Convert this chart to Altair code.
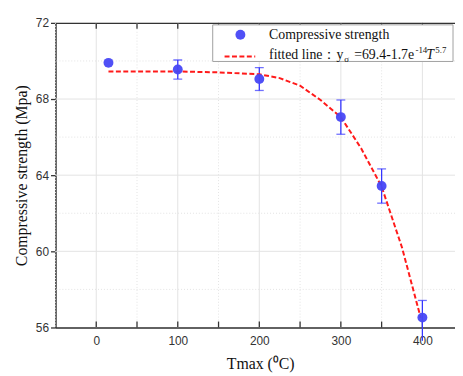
import altair as alt
import pandas as pd

# ---- data ----
temps = [15, 100, 200, 300, 350, 400]
strength = [69.9, 69.55, 69.05, 67.05, 63.43, 56.52]
err_lo = [69.9, 69.05, 68.45, 66.15, 62.53, 55.3]
err_hi = [69.9, 70.05, 69.65, 67.95, 64.33, 57.42]

fit_T = [15, 50, 100, 150, 200, 225, 250, 275, 300, 325, 350, 375, 398]
fit_y = [69.45, 69.45, 69.45, 69.4, 69.3, 69.1, 68.7, 67.95, 67.05, 65.4, 63.4, 60.2, 56.5]

x_major = [0, 100, 200, 300, 400]
x_minor = [-50, 50, 150, 250, 350]
x_ticks = [0, 50, 100, 150, 200, 250, 300, 350, 400]
y_major = [56, 60, 64, 68, 72]
y_minor = [58, 62, 66, 70]
y_gridmajor = [60, 64, 68]

W, H = 404, 308
XDOM = [-50, 440]
YDOM = [56, 72]

pts = pd.DataFrame({"T": temps, "S": strength, "lo": err_lo, "hi": err_hi})
fit = pd.DataFrame({"T": fit_T, "S": fit_y})
dxmin = pd.DataFrame({"v": x_minor})
dxmaj = pd.DataFrame({"v": x_major})
dxt = pd.DataFrame({"v": x_ticks})
dymin = pd.DataFrame({"v": y_minor})
dymaj = pd.DataFrame({"v": y_gridmajor})
one = pd.DataFrame({"a": [0]})

xs = alt.Scale(domain=XDOM, nice=False, zero=False)
ys = alt.Scale(domain=YDOM, nice=False, zero=False)

GRID = "#e3e3e3"
BLUE = "#4747f5"
EBLUE = "#3535ff"
RED = "#ff1a1a"
SERIF = "Liberation Serif"
SANS = "Liberation Sans"

vminor = alt.Chart(dxmin).mark_rule(color=GRID, strokeDash=[1, 2], strokeWidth=1).encode(
    x=alt.X("v:Q", scale=xs, axis=None))
vmajor = alt.Chart(dxmaj).mark_rule(color=GRID, strokeWidth=1).encode(
    x=alt.X("v:Q", scale=xs, axis=None))
hminor = alt.Chart(dymin).mark_rule(color=GRID, strokeDash=[1, 2], strokeWidth=1).encode(
    y=alt.Y("v:Q", scale=ys, axis=None))
hmajor = alt.Chart(dymaj).mark_rule(color=GRID, strokeWidth=1).encode(
    y=alt.Y("v:Q", scale=ys, axis=None))

# inward ticks on bottom and top frame
bticks = alt.Chart(dxt).mark_rule(color="#333333", strokeWidth=1.3).encode(
    x=alt.X("v:Q", scale=xs, axis=None), y=alt.value(H), y2=alt.value(H - 6))
tticks = alt.Chart(dxt).mark_rule(color="#333333", strokeWidth=1.3).encode(
    x=alt.X("v:Q", scale=xs, axis=None), y=alt.value(0), y2=alt.value(6))

ebars = alt.Chart(pts).mark_rule(color=EBLUE, strokeWidth=1.3).encode(
    x=alt.X("T:Q", scale=xs, axis=None),
    y=alt.Y("lo:Q", scale=ys, axis=None), y2="hi:Q")
cap_hi = alt.Chart(pts).transform_filter("datum.hi > datum.lo").mark_tick(
    color=EBLUE, orient="horizontal", size=9, thickness=1.3).encode(
    x=alt.X("T:Q", scale=xs, axis=None), y=alt.Y("hi:Q", scale=ys, axis=None))
cap_lo = alt.Chart(pts).transform_filter("datum.hi > datum.lo && datum.lo >= 56").mark_tick(
    color=EBLUE, orient="horizontal", size=9, thickness=1.3).encode(
    x=alt.X("T:Q", scale=xs, axis=None), y=alt.Y("lo:Q", scale=ys, axis=None))

fitline = alt.Chart(fit).mark_line(color=RED, strokeDash=[5, 2.5], strokeWidth=2).encode(
    x=alt.X("T:Q", scale=xs, axis=None), y=alt.Y("S:Q", scale=ys, axis=None))

points = alt.Chart(pts).mark_circle(color=BLUE, opacity=0.95, size=100).encode(
    x=alt.X("T:Q", scale=xs, title="Tmax (⁰C)",
            axis=alt.Axis(values=x_major, tickSize=0, labelPadding=8, grid=False,
                          domainColor="#333333", domainWidth=1.5,
                          labelFont=SANS, labelFontSize=12, labelColor="#333333",
                          titleFont=SERIF, titleFontSize=16, titleFontWeight="normal",
                          titleColor="#111111", titleX=207, titleY=28,
                          titleBaseline="top")),
    y=alt.Y("S:Q", scale=ys, title="Compressive strength (Mpa)",
            axis=alt.Axis(values=y_major, tickSize=5, tickColor="#333333", tickWidth=1.3,
                          labelPadding=2, grid=False,
                          domainColor="#333333", domainWidth=1.5,
                          labelFont=SANS, labelFontSize=12, labelColor="#333333",
                          titleFont=SERIF, titleFontSize=16, titleFontWeight="normal",
                          titleColor="#111111", titleX=-34, titleY=154,
                          titleBaseline="middle")),
)

topaxis = alt.Chart(one).mark_point(opacity=0).encode(
    x=alt.X("a:Q", scale=xs, axis=alt.Axis(orient="top", labels=False, ticks=False,
                                           grid=False, title=None,
                                           domainColor="#333333", domainWidth=1.5)))

# manual legend
leg_box = alt.Chart(one).mark_rect(fill="white", stroke="#a0a0a0", strokeWidth=1).encode(
    x=alt.value(159), x2=alt.value(402), y=alt.value(2), y2=alt.value(39))
leg_pt = alt.Chart(one).mark_circle(color=BLUE, opacity=0.95, size=100).encode(
    x=alt.value(187), y=alt.value(12))
leg_line = alt.Chart(one).mark_rule(color=RED, strokeDash=[5, 2.5], strokeWidth=2).encode(
    x=alt.value(171), x2=alt.value(202), y=alt.value(34))


def txt(s, x, y, size=14, italic=False):
    return alt.Chart(one).mark_text(
        text=s, align="left", baseline="middle", font=SERIF, fontSize=size,
        fontStyle="italic" if italic else "normal", color="#111111").encode(
        x=alt.value(x), y=alt.value(y))


legend = [
    leg_box, leg_pt, leg_line,
    txt("Compressive strength", 216, 12),
    txt("fitted line：y", 216, 33),
    txt("σ", 292, 37, size=9),
    txt("=69.4-1.7e", 302, 33),
    txt("-14", 364, 27, size=9),
    txt("T", 375, 33, italic=True),
    txt("5.7", 384, 27, size=9),
]

chart = alt.layer(
    vminor, vmajor, hminor, hmajor, bticks, tticks, topaxis,
    ebars, cap_hi, cap_lo, fitline, points, *legend
).resolve_axis(x="independent", y="independent").properties(
    width=W, height=H,
    autosize=alt.AutoSizeParams(type="none"),
    padding={"left": 48, "top": 13, "right": 0, "bottom": 46},
).configure_view(stroke=None).configure(background="white")

chart.save("out.html", embed_options={"renderer": "svg", "actions": False})
